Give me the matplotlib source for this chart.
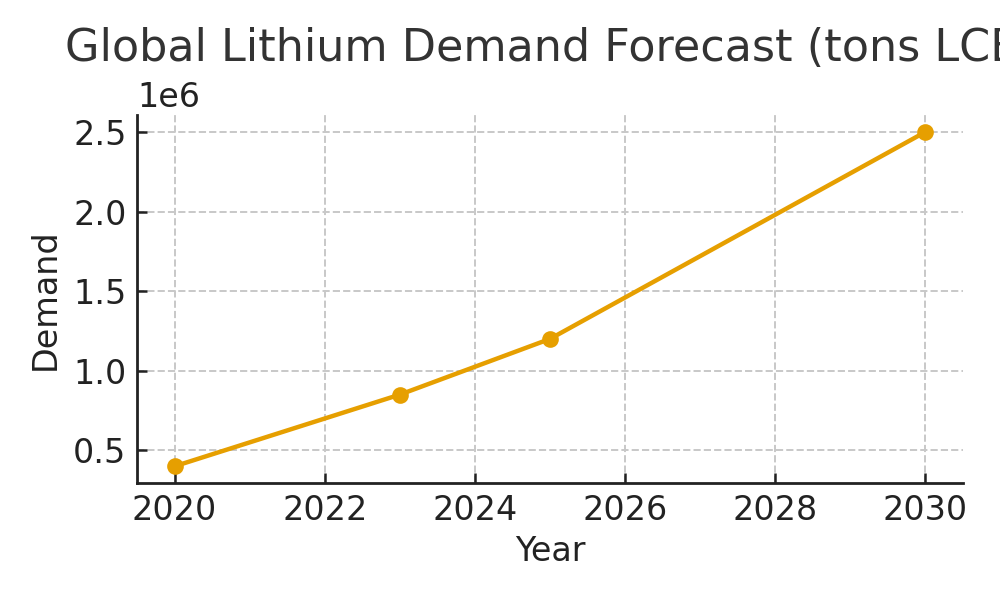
import matplotlib
matplotlib.use("Agg")
import matplotlib.pyplot as plt

years = [2020, 2023, 2025, 2030]
demand = [400000, 850000, 1200000, 2500000]

plt.rcParams['font.family'] = ['DejaVu Sans']
fig = plt.figure(figsize=(5, 3), dpi=200)
ax = fig.add_axes([0.137, 0.195, 0.826, 0.613])
ax.plot(years, demand, color='#E69F00', marker='o', linewidth=1.6, markersize=5)
ax.set_title('Global Lithium Demand Forecast (tons LCE)', fontsize=16, color='#333333', pad=7)
ax.set_xlabel('Year', fontsize=12, color='#222222', labelpad=3)
ax.set_ylabel('Demand', fontsize=12, color='#222222', labelpad=4)
ax.tick_params(labelsize=12, colors='#222222', length=3.5, width=0.9, pad=3.8, direction='in')
ax.yaxis.get_offset_text().set_fontsize(12)
ax.grid(True, linestyle='--', color='#c8c8c8', linewidth=0.7)
ax.spines['top'].set_visible(False)
ax.spines['right'].set_visible(False)
for s in ['left', 'bottom']:
    ax.spines[s].set_color('#222222')
    ax.spines[s].set_linewidth(1.0)
ax.set_xticks([2020, 2022, 2024, 2026, 2028, 2030])
fig.savefig('out.png', dpi=200)
